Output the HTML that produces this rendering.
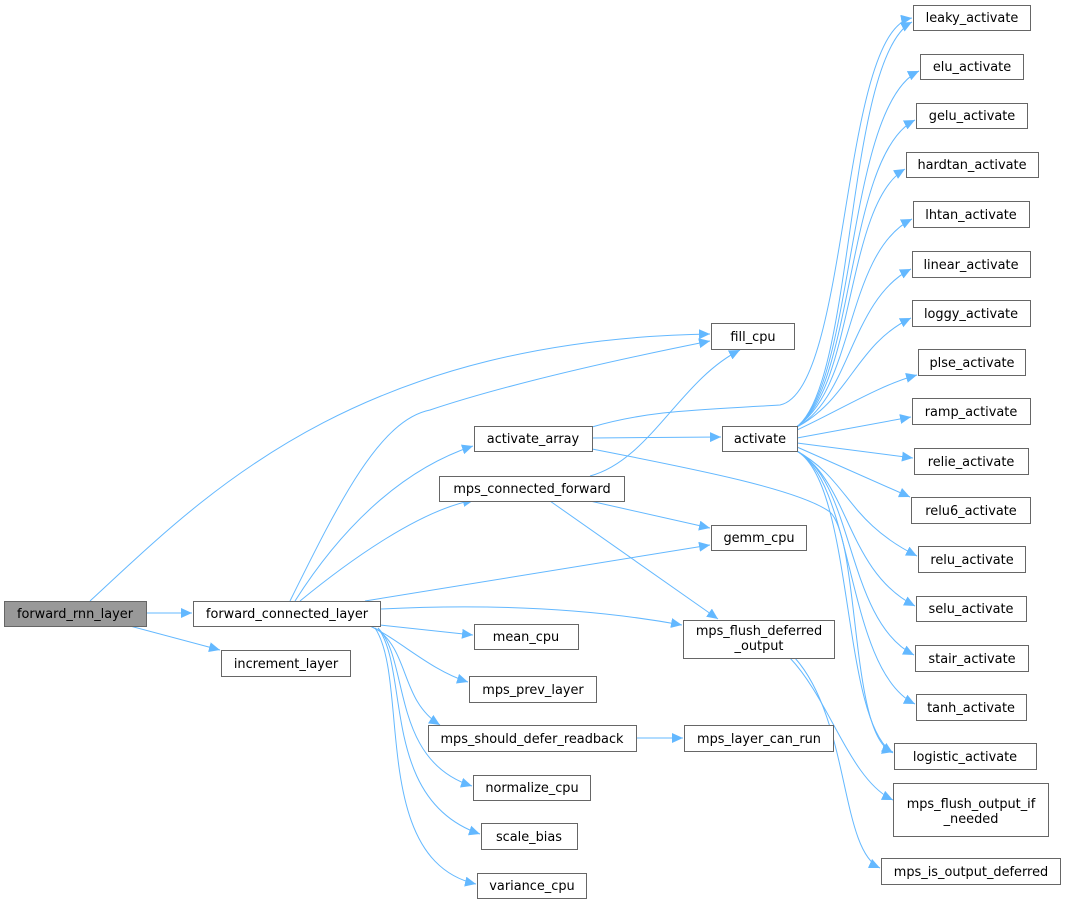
<!DOCTYPE html>
<html><head><meta charset="utf-8"><style>
html,body{margin:0;padding:0;background:#fff;}
svg{display:block;}
text{font-family:"DejaVu Sans","Liberation Sans",sans-serif;font-size:12.9px;fill:#000;}
.n{fill:#fff;stroke:#666;stroke-width:1;}
.e{fill:none;stroke:#63b8ff;stroke-width:1;}
</style></head><body>
<svg width="1067" height="905" viewBox="0 0 1067 905" xmlns="http://www.w3.org/2000/svg">
<defs>
<marker id="a" markerUnits="userSpaceOnUse" markerWidth="12" markerHeight="10" refX="11" refY="5" orient="auto">
<path d="M0,0 L11,5 L0,10 z" fill="#63b8ff"/>
</marker>
</defs>
<g class="e" marker-end="url(#a)">
<path d="M146 613 L192 613"/>
<path d="M130 626 L220 650"/>
<path d="M90 601 C200 500 350 340 710 334"/>
<path d="M290 601 C340 500 380 420 430 410 C520 380 640 355 710 341"/>
<path d="M295 601 C340 530 400 470 473 446"/>
<path d="M300 601 C350 560 420 510 474 500"/>
<path d="M365 601 L710 545"/>
<path d="M380 609 C500 603 600 610 682 625"/>
<path d="M380 625 L473 635"/>
<path d="M370 626 C400 640 430 670 468 682"/>
<path d="M375 628 C410 650 400 700 440 725"/>
<path d="M378 628 C410 660 390 760 472 786"/>
<path d="M378 628 C410 670 380 800 480 834"/>
<path d="M375 628 C410 680 370 860 476 884"/>
<path d="M592 438 L721 437"/>
<path d="M592 427 C650 410 700 410 780 405 C850 390 840 30 912 18"/>
<path d="M592 449 C700 470 800 490 830 512 C860 540 850 740 893 752"/>
<path d="M590 476 C650 460 680 380 740 350"/>
<path d="M590 501 L710 528"/>
<path d="M550 501 L718 619"/>
<path d="M636 738 L683 738"/>
<path d="M790 658 C830 700 850 780 893 800"/>
<path d="M795 658 C850 720 840 850 880 868"/>
<path d="M795 428 C855 390 845 57 912 22"/>
<path d="M795 428 C855 390 845 106 919 71"/>
<path d="M795 428 C855 390 845 155 915 120"/>
<path d="M795 428 C855 390 845 204 905 169"/>
<path d="M795 428 C855 390 845 253 912 219"/>
<path d="M795 428 C850 400 850 300 911 269"/>
<path d="M795 428 C850 400 855 345 911 318"/>
<path d="M797 430 C840 410 880 385 917 375"/>
<path d="M797 438 L911 417"/>
<path d="M797 443 L913 458"/>
<path d="M797 447 L910 497"/>
<path d="M795 450 C850 480 845 520 917 556"/>
<path d="M795 450 C850 480 845 570 915 606"/>
<path d="M795 450 C855 480 845 620 914 655"/>
<path d="M795 450 C855 480 845 670 915 704"/>
<path d="M795 450 C855 480 840 720 893 753"/>
</g>
<rect x="4.5" y="601.5" width="142" height="25" fill="#999" stroke="#666"/>
<text x="75" y="618" text-anchor="middle">forward_rnn_layer</text>
<g>
<rect class="n" x="193.5" y="601.5" width="187" height="25"/><text x="287" y="618" text-anchor="middle">forward_connected_layer</text>
<rect class="n" x="221.5" y="650.5" width="129" height="26"/><text x="286" y="668" text-anchor="middle">increment_layer</text>
<rect class="n" x="711.5" y="323.5" width="83" height="26"/><text x="753" y="341" text-anchor="middle">fill_cpu</text>
<rect class="n" x="474.5" y="426.5" width="118" height="25"/><text x="533" y="443" text-anchor="middle">activate_array</text>
<rect class="n" x="439.5" y="476.5" width="185" height="25"/><text x="532" y="493" text-anchor="middle">mps_connected_forward</text>
<rect class="n" x="722.5" y="426.5" width="75" height="25"/><text x="760" y="443" text-anchor="middle">activate</text>
<rect class="n" x="711.5" y="525.5" width="95" height="25"/><text x="759" y="542" text-anchor="middle">gemm_cpu</text>
<rect class="n" x="683.5" y="620.5" width="151" height="38"/><text x="759" y="635" text-anchor="middle">mps_flush_deferred</text><text x="759" y="650" text-anchor="middle">_output</text>
<rect class="n" x="474.5" y="624.5" width="104" height="25"/><text x="526" y="641" text-anchor="middle">mean_cpu</text>
<rect class="n" x="469.5" y="676.5" width="127" height="26"/><text x="533" y="694" text-anchor="middle">mps_prev_layer</text>
<rect class="n" x="428.5" y="725.5" width="208" height="26"/><text x="532" y="743" text-anchor="middle">mps_should_defer_readback</text>
<rect class="n" x="684.5" y="725.5" width="149" height="26"/><text x="759" y="743" text-anchor="middle">mps_layer_can_run</text>
<rect class="n" x="473.5" y="775.5" width="117" height="25"/><text x="532" y="792" text-anchor="middle">normalize_cpu</text>
<rect class="n" x="481.5" y="823.5" width="96" height="26"/><text x="529" y="841" text-anchor="middle">scale_bias</text>
<rect class="n" x="477.5" y="873.5" width="109" height="25"/><text x="532" y="890" text-anchor="middle">variance_cpu</text>
<rect class="n" x="913.5" y="5.5" width="117" height="25"/><text x="972" y="22" text-anchor="middle">leaky_activate</text>
<rect class="n" x="920.5" y="54.5" width="103" height="25"/><text x="972" y="71" text-anchor="middle">elu_activate</text>
<rect class="n" x="916.5" y="103.5" width="111" height="25"/><text x="972" y="120" text-anchor="middle">gelu_activate</text>
<rect class="n" x="906.5" y="152.5" width="132" height="25"/><text x="972" y="169" text-anchor="middle">hardtan_activate</text>
<rect class="n" x="913.5" y="201.5" width="116" height="26"/><text x="971" y="219" text-anchor="middle">lhtan_activate</text>
<rect class="n" x="912.5" y="251.5" width="118" height="26"/><text x="971" y="269" text-anchor="middle">linear_activate</text>
<rect class="n" x="912.5" y="300.5" width="118" height="26"/><text x="971" y="318" text-anchor="middle">loggy_activate</text>
<rect class="n" x="918.5" y="349.5" width="107" height="26"/><text x="972" y="367" text-anchor="middle">plse_activate</text>
<rect class="n" x="912.5" y="398.5" width="118" height="26"/><text x="971" y="416" text-anchor="middle">ramp_activate</text>
<rect class="n" x="914.5" y="448.5" width="114" height="26"/><text x="971" y="466" text-anchor="middle">relie_activate</text>
<rect class="n" x="911.5" y="497.5" width="119" height="26"/><text x="971" y="515" text-anchor="middle">relu6_activate</text>
<rect class="n" x="918.5" y="546.5" width="107" height="26"/><text x="972" y="564" text-anchor="middle">relu_activate</text>
<rect class="n" x="916.5" y="596.5" width="110" height="25"/><text x="971" y="613" text-anchor="middle">selu_activate</text>
<rect class="n" x="915.5" y="645.5" width="113" height="26"/><text x="972" y="663" text-anchor="middle">stair_activate</text>
<rect class="n" x="916.5" y="694.5" width="110" height="26"/><text x="971" y="712" text-anchor="middle">tanh_activate</text>
<rect class="n" x="894.5" y="743.5" width="142" height="26"/><text x="965" y="761" text-anchor="middle">logistic_activate</text>
<rect class="n" x="893.5" y="783.5" width="155" height="53"/><text x="971" y="808" text-anchor="middle">mps_flush_output_if</text><text x="971" y="823" text-anchor="middle">_needed</text>
<rect class="n" x="881.5" y="858.5" width="179" height="26"/><text x="971" y="876" text-anchor="middle">mps_is_output_deferred</text>
</g>
</svg>
</body></html>
